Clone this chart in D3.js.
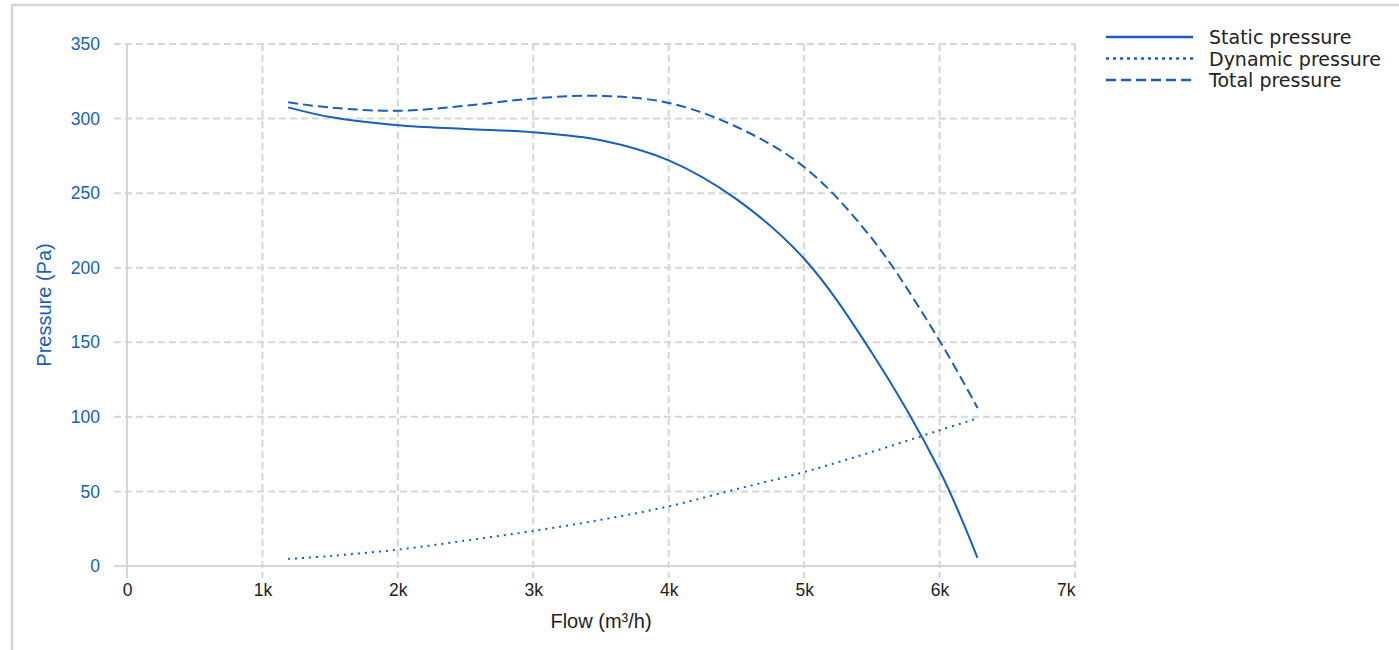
<!DOCTYPE html>
<html>
<head>
<meta charset="utf-8">
<script src="https://cdn.jsdelivr.net/npm/d3@7"></script>
<style>
  html, body { margin: 0; padding: 0; background: #fff; }
  svg { display: block; }
</style>
</head>
<body>
<svg id="chart" width="1399" height="650"></svg>
<script>
// ---- Data ----
const flow = [1190, 1500, 2000, 2500, 3000, 3500, 4000, 4500, 5000, 5500, 6000, 6280];
const staticPressure  = [307.5, 301, 295.5, 293, 290.8, 285.5, 272, 246, 206, 143, 64, 5.5];
const dynamicPressure = [4.7, 6.7, 11, 17, 23.5, 31, 40, 51.5, 63, 76.5, 91, 99];
const totalPressure   = [310.9, 307.4, 305.2, 308.6, 313.5, 315.2, 310.5, 294.5, 267.5, 219.6, 151, 106];
const seriesNames = ["Static pressure", "Dynamic pressure", "Total pressure"];
const xTicks = [0, 1000, 2000, 3000, 4000, 5000, 6000, 7000];
const xTickLabels = ["0", "1k", "2k", "3k", "4k", "5k", "6k", "7k"];
const yTicks = [0, 50, 100, 150, 200, 250, 300, 350];
const xTitle = "Flow (m³/h)";
const yTitle = "Pressure (Pa)";

(function () {
// ---- Layout ----
const svg = d3.select("#chart");
const pLeft = 127, pRight = 1075, pTop = 44, pBottom = 566;
const blue = "#1560bd";
const gridColor = "#d6d6d6";
const sans = "Liberation Sans, Arial, sans-serif";

// outer frame
svg.append("rect").attr("x", 12).attr("y", 5).attr("width", 1420).attr("height", 680)
  .attr("fill", "none").attr("stroke", "#d3d3d3").attr("stroke-width", 2.5);

const x = d3.scaleLinear().domain([0, 7000]).range([pLeft, pRight]);
const y = d3.scaleLinear().domain([0, 350]).range([pBottom, pTop]);

// grid lines
const grid = svg.append("g");
grid.selectAll("line.v").data(xTicks).join("line").attr("class", "v")
  .attr("x1", d => x(d)).attr("x2", d => x(d))
  .attr("y1", pTop).attr("y2", pBottom + 12)
  .attr("stroke", gridColor).attr("stroke-width", 2)
  .attr("stroke-dasharray", d => d === 0 ? null : "7,4");
grid.selectAll("line.h").data(yTicks).join("line").attr("class", "h")
  .attr("x1", pLeft - 13).attr("x2", pRight)
  .attr("y1", d => y(d)).attr("y2", d => y(d))
  .attr("stroke", gridColor).attr("stroke-width", 2)
  .attr("stroke-dasharray", d => d === 0 ? null : "7,4");

// axes with d3 (labels only; lines styled as above)
const xAxis = svg.append("g").attr("transform", `translate(0,${pBottom})`)
  .call(d3.axisBottom(x).tickValues(xTicks).tickFormat((d, i) => xTickLabels[i]).tickSize(0).tickPadding(18));
xAxis.select(".domain").remove();
xAxis.selectAll("text")
  .attr("font-family", sans).attr("font-size", 17.5).attr("fill", "#222")
  .attr("text-anchor", (d, i) => i === xTicks.length - 1 ? "end" : "middle");

const yAxis = svg.append("g").attr("transform", `translate(${pLeft},0)`)
  .call(d3.axisLeft(y).tickValues(yTicks).tickSize(0).tickPadding(27));
yAxis.select(".domain").remove();
yAxis.selectAll("text")
  .attr("font-family", sans).attr("font-size", 17.5).attr("fill", blue);

// titles
svg.append("text").attr("x", (pLeft + pRight) / 2).attr("y", 628).attr("text-anchor", "middle")
  .attr("font-family", sans).attr("font-size", 20).attr("fill", "#222")
  .text(xTitle);
svg.append("text").attr("transform", `translate(51,${(pTop + pBottom) / 2}) rotate(-90)`)
  .attr("text-anchor", "middle")
  .attr("font-family", sans).attr("font-size", 20).attr("fill", blue)
  .text(yTitle);

// series
const dashes = [null, "2,5", "10,5"];
const seriesValues = [staticPressure, dynamicPressure, totalPressure];
const line = d3.line().x(d => x(d[0])).y(d => y(d[1])).curve(d3.curveCatmullRom.alpha(0.5));
seriesValues.forEach((vals, i) => {
  svg.append("path")
    .datum(flow.map((f, j) => [f, vals[j]]))
    .attr("d", line)
    .attr("fill", "none").attr("stroke", blue).attr("stroke-width", 2)
    .attr("stroke-dasharray", dashes[i]);
});

// legend
const legend = svg.append("g");
const legendDash = [null, "3,4", "10,5"];
seriesNames.forEach((name, i) => {
  const ly = 37 + i * 21.5;
  legend.append("line").attr("x1", 1106).attr("x2", 1193).attr("y1", ly).attr("y2", ly)
    .attr("stroke", blue).attr("stroke-width", 2.5).attr("stroke-dasharray", legendDash[i]);
  legend.append("text").attr("x", 1209).attr("y", ly + 7)
    .attr("font-family", "DejaVu Sans, Verdana, sans-serif").attr("font-size", 19).attr("fill", "#222")
    .text(name);
});
})();
</script>
</body>
</html>
